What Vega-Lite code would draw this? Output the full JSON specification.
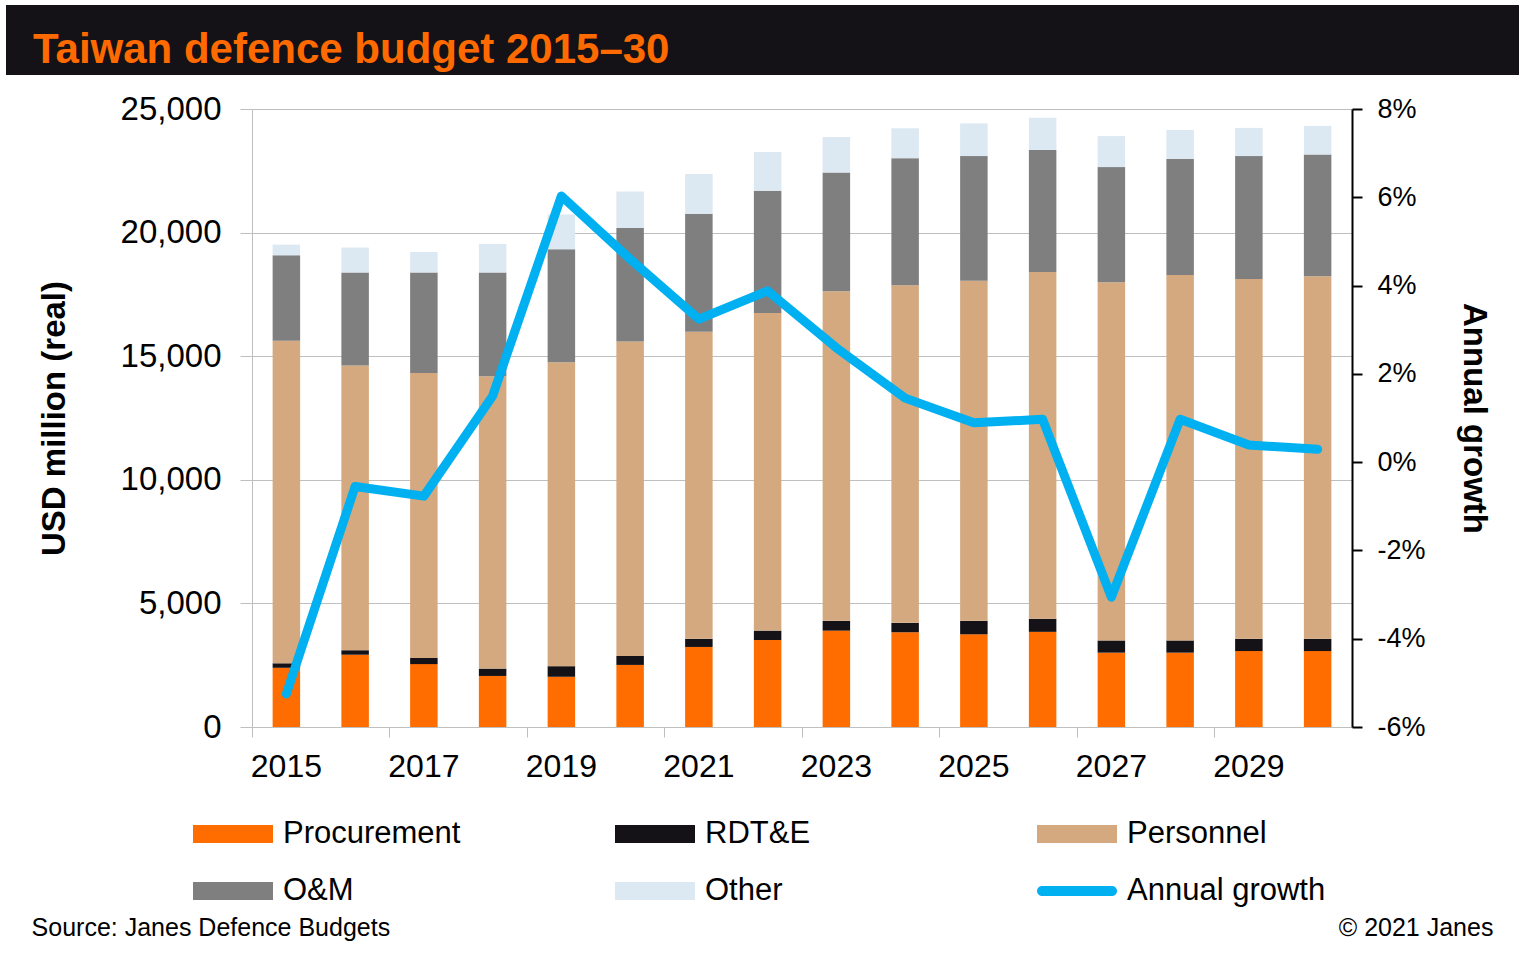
{
  "$schema": "https://vega.github.io/schema/vega-lite/v6.json",
  "background": "white",
  "padding": {"left": 6, "top": 5, "right": 5, "bottom": 5},
  "datasets": {
    "budget": [
      {"year": "2015", "category": "Procurement", "value": 2395},
      {"year": "2015", "category": "RDT&E", "value": 182},
      {"year": "2015", "category": "Personnel", "value": 13052},
      {"year": "2015", "category": "O&M", "value": 3454},
      {"year": "2015", "category": "Other", "value": 430},
      {"year": "2016", "category": "Procurement", "value": 2924},
      {"year": "2016", "category": "RDT&E", "value": 182},
      {"year": "2016", "category": "Personnel", "value": 11514},
      {"year": "2016", "category": "O&M", "value": 3767},
      {"year": "2016", "category": "Other", "value": 1008},
      {"year": "2017", "category": "Procurement", "value": 2544},
      {"year": "2017", "category": "RDT&E", "value": 248},
      {"year": "2017", "category": "Personnel", "value": 11531},
      {"year": "2017", "category": "O&M", "value": 4064},
      {"year": "2017", "category": "Other", "value": 826},
      {"year": "2018", "category": "Procurement", "value": 2065},
      {"year": "2018", "category": "RDT&E", "value": 297},
      {"year": "2018", "category": "Personnel", "value": 11829},
      {"year": "2018", "category": "O&M", "value": 4196},
      {"year": "2018", "category": "Other", "value": 1156},
      {"year": "2019", "category": "Procurement", "value": 2032},
      {"year": "2019", "category": "RDT&E", "value": 429},
      {"year": "2019", "category": "Personnel", "value": 12291},
      {"year": "2019", "category": "O&M", "value": 4576},
      {"year": "2019", "category": "Other", "value": 1405},
      {"year": "2020", "category": "Procurement", "value": 2511},
      {"year": "2020", "category": "RDT&E", "value": 363},
      {"year": "2020", "category": "Personnel", "value": 12721},
      {"year": "2020", "category": "O&M", "value": 4592},
      {"year": "2020", "category": "Other", "value": 1471},
      {"year": "2021", "category": "Procurement", "value": 3238},
      {"year": "2021", "category": "RDT&E", "value": 330},
      {"year": "2021", "category": "Personnel", "value": 12423},
      {"year": "2021", "category": "O&M", "value": 4775},
      {"year": "2021", "category": "Other", "value": 1602},
      {"year": "2022", "category": "Procurement", "value": 3519},
      {"year": "2022", "category": "RDT&E", "value": 380},
      {"year": "2022", "category": "Personnel", "value": 12852},
      {"year": "2022", "category": "O&M", "value": 4940},
      {"year": "2022", "category": "Other", "value": 1569},
      {"year": "2023", "category": "Procurement", "value": 3899},
      {"year": "2023", "category": "RDT&E", "value": 396},
      {"year": "2023", "category": "Personnel", "value": 13332},
      {"year": "2023", "category": "O&M", "value": 4807},
      {"year": "2023", "category": "Other", "value": 1437},
      {"year": "2024", "category": "Procurement", "value": 3833},
      {"year": "2024", "category": "RDT&E", "value": 380},
      {"year": "2024", "category": "Personnel", "value": 13662},
      {"year": "2024", "category": "O&M", "value": 5137},
      {"year": "2024", "category": "Other", "value": 1206},
      {"year": "2025", "category": "Procurement", "value": 3750},
      {"year": "2025", "category": "RDT&E", "value": 545},
      {"year": "2025", "category": "Personnel", "value": 13761},
      {"year": "2025", "category": "O&M", "value": 5039},
      {"year": "2025", "category": "Other", "value": 1322},
      {"year": "2026", "category": "Procurement", "value": 3849},
      {"year": "2026", "category": "RDT&E", "value": 529},
      {"year": "2026", "category": "Personnel", "value": 14025},
      {"year": "2026", "category": "O&M", "value": 4940},
      {"year": "2026", "category": "Other", "value": 1305},
      {"year": "2027", "category": "Procurement", "value": 3007},
      {"year": "2027", "category": "RDT&E", "value": 495},
      {"year": "2027", "category": "Personnel", "value": 14488},
      {"year": "2027", "category": "O&M", "value": 4659},
      {"year": "2027", "category": "Other", "value": 1255},
      {"year": "2028", "category": "Procurement", "value": 3007},
      {"year": "2028", "category": "RDT&E", "value": 495},
      {"year": "2028", "category": "Personnel", "value": 14786},
      {"year": "2028", "category": "O&M", "value": 4691},
      {"year": "2028", "category": "Other", "value": 1173},
      {"year": "2029", "category": "Procurement", "value": 3073},
      {"year": "2029", "category": "RDT&E", "value": 495},
      {"year": "2029", "category": "Personnel", "value": 14554},
      {"year": "2029", "category": "O&M", "value": 4973},
      {"year": "2029", "category": "Other", "value": 1140},
      {"year": "2030", "category": "Procurement", "value": 3073},
      {"year": "2030", "category": "RDT&E", "value": 495},
      {"year": "2030", "category": "Personnel", "value": 14670},
      {"year": "2030", "category": "O&M", "value": 4923},
      {"year": "2030", "category": "Other", "value": 1156}
    ],
    "growth": [
      {"year": "2015", "growth": -5.25},
      {"year": "2016", "growth": -0.55},
      {"year": "2017", "growth": -0.77},
      {"year": "2018", "growth": 1.5},
      {"year": "2019", "growth": 6.03},
      {"year": "2020", "growth": 4.6},
      {"year": "2021", "growth": 3.24},
      {"year": "2022", "growth": 3.88},
      {"year": "2023", "growth": 2.59},
      {"year": "2024", "growth": 1.45},
      {"year": "2025", "growth": 0.89},
      {"year": "2026", "growth": 0.97},
      {"year": "2027", "growth": -3.06},
      {"year": "2028", "growth": 0.97},
      {"year": "2029", "growth": 0.39},
      {"year": "2030", "growth": 0.29}
    ],
    "footer": [
      {"side": "left", "label": "Source: Janes Defence Budgets", "base": 0},
      {"side": "right", "label": "© 2021 Janes", "base": 0}
    ]
  },
  "spacing": 18,
  "vconcat": [
    {
      "width": 1513,
      "height": 70,
      "view": {"fill": "#141217", "stroke": null},
      "data": {"values": []},
      "mark": "point",
      "title": {
        "text": "Taiwan defence budget 2015–30",
        "orient": "top",
        "anchor": "start",
        "frame": "group",
        "offset": -100,
        "baseline": "alphabetic",
        "dx": 27,
        "fontSize": 42,
        "font": "Liberation Sans",
        "fontWeight": "bold",
        "color": "#FF6A00"
      }
    },
    {
      "spacing": 0,
      "hconcat": [
        {
          "width": 32,
          "height": 618,
          "data": {"values": []},
          "mark": "point"
        },
        {
          "width": 1100,
          "height": 618,
          "layer": [
            {
              "data": {"name": "budget"},
              "transform": [
                {"calculate": "indexof(['Procurement', 'RDT&E', 'Personnel', 'O&M', 'Other'], datum.category)", "as": "stack_order"}
              ],
              "mark": {"type": "bar", "width": {"band": 0.4}},
              "encoding": {
                "x": {
                  "field": "year",
                  "type": "ordinal",
                  "scale": {"paddingInner": 0, "paddingOuter": 0},
                  "axis": {
                    "title": null,
                    "values": ["2015", "2017", "2019", "2021", "2023", "2025", "2027", "2029"],
                    "bandPosition": 0,
                    "labelAngle": 0,
                    "labelFontSize": 32,
                    "labelPadding": 14,
                    "tickSize": 10,
                    "tickColor": "#BFBFBF",
                    "domainColor": "#BFBFBF",
                    "grid": false
                  }
                },
                "y": {
                  "field": "value",
                  "type": "quantitative",
                  "stack": "zero",
                  "scale": {"domain": [0, 25000], "nice": false},
                  "axis": {
                    "title": "USD million (real)",
                    "titleFontSize": 33,
                    "titleFontWeight": "bold",
                    "titlePadding": 49,
                    "values": [0, 5000, 10000, 15000, 20000, 25000],
                    "format": ",.0f",
                    "labelFontSize": 33,
                    "labelPadding": 19,
                    "tickSize": 12,
                    "tickColor": "#BFBFBF",
                    "domainColor": "#BFBFBF",
                    "grid": true,
                    "gridColor": "#BFBFBF"
                  }
                },
                "color": {
                  "field": "category",
                  "type": "nominal",
                  "scale": {
                    "domain": ["Procurement", "RDT&E", "Personnel", "O&M", "Other", "Annual growth"],
                    "range": ["#FF6D00", "#141217", "#D4A97F", "#7F7F7F", "#DCE8F2", "#00B0F0"]
                  },
                  "legend": {
                    "title": null,
                    "orient": "none",
                    "legendX": 207,
                    "legendY": 809,
                    "direction": "horizontal",
                    "columns": 3,
                    "gridAlign": "all",
                    "columnPadding": 133,
                    "rowPadding": 22,
                    "symbolType": "M-2,-0.45H2V0.45H-2Z",
                    "symbolSize": 1600,
                    "symbolStrokeWidth": 0,
                    "labelFontSize": 31,
                    "labelOffset": 30,
                    "labelLimit": 400,
                    "encode": {
                      "symbols": {
                        "update": {
                          "shape": {"signal": "datum.value === 'Annual growth' ? 'M-1.75,-0.25H1.75A0.25,0.25 0 0 1 1.75,0.25H-1.75A0.25,0.25 0 0 1 -1.75,-0.25Z' : 'M-2,-0.45H2V0.45H-2Z'"},
                          "fill": {"scale": "color", "field": "value"},
                          "strokeWidth": {"value": 0},
                          "opacity": {"value": 1}
                        }
                      }
                    }
                  }
                },
                "order": {"field": "stack_order"}
              }
            },
            {
              "data": {"name": "growth"},
              "mark": {"type": "line", "strokeWidth": 9, "strokeCap": "round", "strokeJoin": "round"},
              "encoding": {
                "x": {"field": "year", "type": "ordinal"},
                "y": {
                  "field": "growth",
                  "type": "quantitative",
                  "scale": {"domain": [-6, 8], "nice": false},
                  "axis": {
                    "orient": "right",
                    "title": "Annual growth",
                    "titleFontSize": 33,
                    "titleFontWeight": "bold",
                    "titlePadding": 31,
                    "values": [-6, -4, -2, 0, 2, 4, 6, 8],
                    "labelExpr": "datum.value + '%'",
                    "labelFontSize": 27,
                    "labelPadding": 15,
                    "tickSize": 10,
                    "tickWidth": 2,
                    "tickColor": "black",
                    "domainColor": "black",
                    "domainWidth": 2,
                    "grid": false
                  }
                },
                "color": {"datum": "Annual growth"}
              }
            }
          ],
          "resolve": {"scale": {"y": "independent"}}
        }
      ]
    },
    {
      "width": 1513,
      "height": 136,
      "data": {"name": "footer"},
      "encoding": {
        "x": {
          "field": "side",
          "type": "nominal",
          "scale": {"type": "point", "domain": ["left", "right"], "padding": 0.0175},
          "axis": null
        },
        "y": {
          "field": "base",
          "type": "quantitative",
          "scale": {"domain": [0, 1]},
          "axis": null
        },
        "text": {"field": "label"}
      },
      "layer": [
        {
          "transform": [{"filter": "datum.side === 'left'"}],
          "mark": {"type": "text", "align": "left", "baseline": "alphabetic", "fontSize": 25, "font": "Liberation Sans", "color": "black"}
        },
        {
          "transform": [{"filter": "datum.side === 'right'"}],
          "mark": {"type": "text", "align": "right", "baseline": "alphabetic", "fontSize": 25, "font": "Liberation Sans", "color": "black"}
        }
      ]
    }
  ],
  "config": {
    "view": {"stroke": null},
    "axis": {
      "labelFont": "Liberation Sans",
      "titleFont": "Liberation Sans",
      "labelColor": "black",
      "titleColor": "black"
    },
    "legend": {"labelFont": "Liberation Sans", "labelColor": "black"}
  }
}
